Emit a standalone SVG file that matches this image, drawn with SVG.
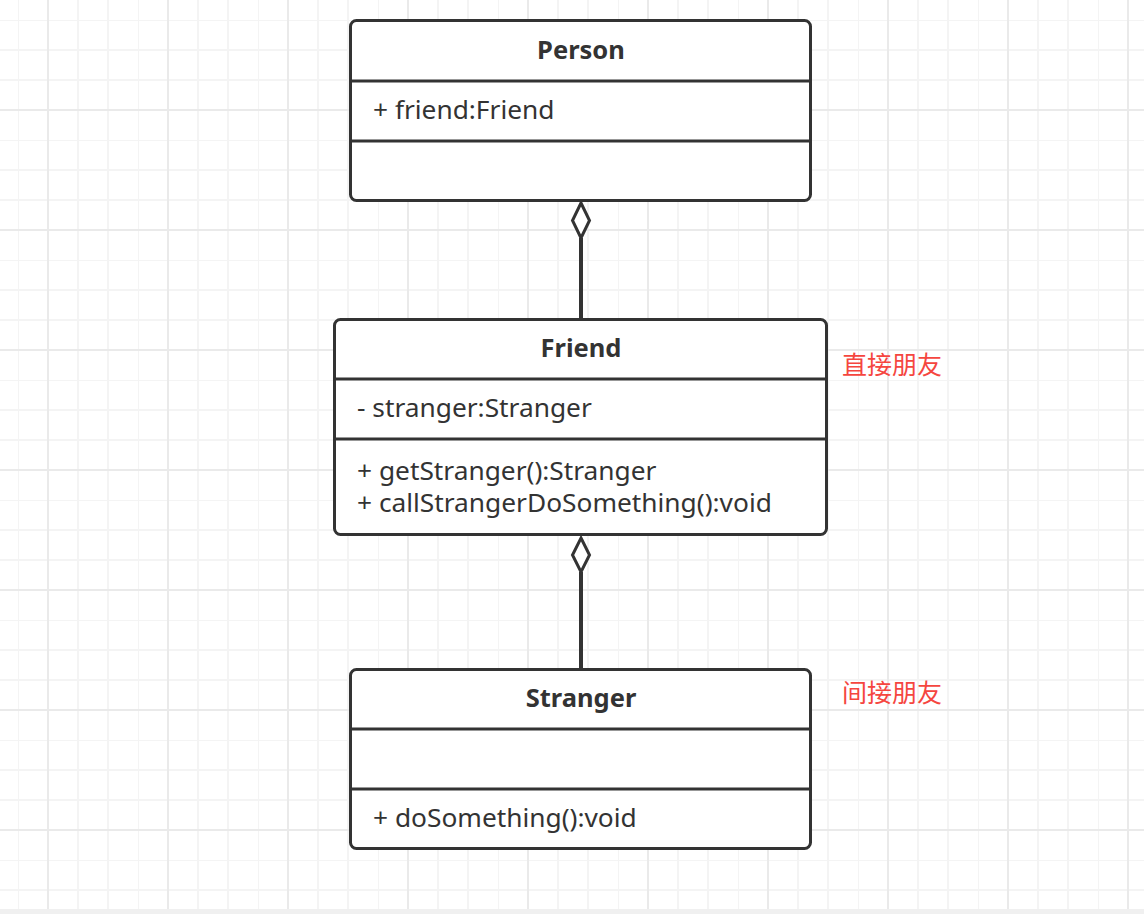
<svg xmlns="http://www.w3.org/2000/svg" width="1144" height="914" viewBox="0 0 1144 914">
  <defs>
    <pattern id="grid" x="18" y="20" width="120" height="120" patternUnits="userSpaceOnUse">
      <g fill="none" stroke="#f4f4f4" stroke-width="2">
        <path d="M0 0V120M60 0V120M90 0V120M0 0H120M0 30H120M0 60H120"/>
      </g>
      <g fill="none" stroke="#eaeaea" stroke-width="2">
        <path d="M30 0V120M0 90H120"/>
      </g>
    </pattern>
  </defs>
  <style>
    .box { fill: #ffffff; stroke: #333333; stroke-width: 3; }
    .div { stroke: #333333; stroke-width: 3; }
    .title { font-family: "Noto Sans", "Open Sans", "Liberation Sans", sans-serif; font-weight: bold; font-size: 25.5px; fill: #333333; text-anchor: middle; }
    .item { font-family: "Noto Sans", "Open Sans", "Liberation Sans", sans-serif; font-size: 26.3px; fill: #333333; }
    .note { font-family: "Noto Sans CJK SC", sans-serif; font-size: 25px; fill: #f5463f; }
    .conn { stroke: #333333; stroke-width: 4; fill: none; }
    .dia { fill: #ffffff; stroke: #333333; stroke-width: 3; }
  </style>
  <rect width="1144" height="914" fill="#ffffff"/>
  <rect width="1144" height="914" fill="url(#grid)"/>
  <rect x="0" y="909" width="1144" height="5" fill="#f0f0f0"/>

  <g id="connectors">
    <line class="conn" x1="581" y1="319" x2="581" y2="238"/>
    <path class="dia" d="M581 203 L589.5 220.5 L581 238 L572.5 220.5 Z"/>
    <line class="conn" x1="581" y1="668" x2="581" y2="572"/>
    <path class="dia" d="M581 538 L589.5 555 L581 572 L572.5 555 Z"/>
  </g>

  <g id="person">
    <rect class="box" x="350.5" y="20.5" width="460" height="180" rx="6"/>
    <line class="div" x1="350.5" y1="81" x2="810.5" y2="81"/>
    <line class="div" x1="350.5" y1="141" x2="810.5" y2="141"/>
    <text class="title" x="581" y="59">Person</text>
    <text class="item" x="373" y="119">+ friend:Friend</text>
  </g>

  <g id="friend">
    <rect class="box" x="334.5" y="319.5" width="492" height="215" rx="6"/>
    <line class="div" x1="334.5" y1="379" x2="826.5" y2="379"/>
    <line class="div" x1="334.5" y1="439" x2="826.5" y2="439"/>
    <text class="title" x="581" y="357">Friend</text>
    <text class="item" x="357" y="417">- stranger:Stranger</text>
    <text class="item" x="357" y="480">+ getStranger():Stranger</text>
    <text class="item" x="357" y="512">+ callStrangerDoSomething():void</text>
  </g>

  <g id="stranger">
    <rect class="box" x="350.5" y="669.5" width="460" height="179" rx="6"/>
    <line class="div" x1="350.5" y1="729" x2="810.5" y2="729"/>
    <line class="div" x1="350.5" y1="789" x2="810.5" y2="789"/>
    <text class="title" x="581" y="707">Stranger</text>
    <text class="item" x="373" y="827">+ doSomething():void</text>
  </g>

  <g id="note-direct">
    <text class="note" x="842" y="374">直接朋友</text>
  </g>
  <g id="note-indirect">
    <text class="note" x="842" y="702">间接朋友</text>
  </g>
</svg>
